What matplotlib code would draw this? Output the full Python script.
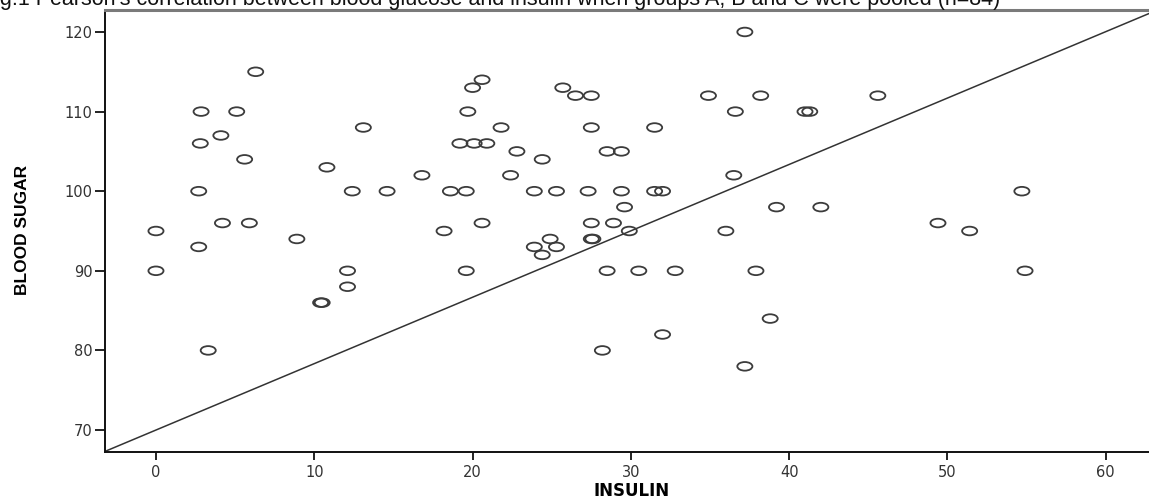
import numpy as np
import matplotlib
matplotlib.use("Agg")
import matplotlib.pyplot as plt
from matplotlib.path import Path
from matplotlib.transforms import Affine2D

# insulin (x) and blood sugar (y), n = 84
insulin = [6.3, 2.85, 5.1, 13.1, 4.1, 2.8, 5.6, 10.8, 2.7, 12.4,
           14.6, 4.2, 5.9, 0.0, 8.9, 2.7, 0.0, 3.3, 10.4, 10.5,
           12.1, 12.1, 19.6, 37.2, 20.6, 20.0, 25.7, 26.5, 27.5, 34.9,
           38.2, 45.6, 19.7, 36.6, 41.0, 41.3, 21.8, 27.5, 31.5, 19.2,
           20.1, 20.9, 22.8, 28.5, 29.4, 24.4, 16.8, 22.4, 36.5, 18.6,
           19.6, 23.9, 25.3, 27.3, 29.4, 31.5, 32.0, 54.7, 29.6, 39.2,
           42.0, 20.6, 27.5, 28.9, 49.4, 18.2, 29.9, 36.0, 51.4, 24.9,
           27.5, 27.6, 23.9, 25.3, 24.4, 28.5, 30.5, 32.8, 37.9, 54.9,
           38.8, 32.0, 28.2, 37.2]
blood_sugar = [115, 110, 110, 108, 107, 106, 104, 103, 100, 100,
               100, 96, 96, 95, 94, 93, 90, 80, 86, 86,
               90, 88, 90, 120, 114, 113, 113, 112, 112, 112,
               112, 112, 110, 110, 110, 110, 108, 108, 108, 106,
               106, 106, 105, 105, 105, 104, 102, 102, 102, 100,
               100, 100, 100, 100, 100, 100, 100, 100, 98, 98,
               98, 96, 96, 96, 96, 95, 95, 95, 95, 94,
               94, 94, 93, 93, 92, 90, 90, 90, 90, 90,
               84, 82, 80, 78]

# reference line drawn on the chart
line_intercept = 70.0
line_slope = 0.834

x_ticks = [0, 10, 20, 30, 40, 50, 60]
y_ticks = [70, 80, 90, 100, 110, 120]
x_lim = (-3.22, 62.73)
y_lim = (67.24, 122.76)

title = ("Fig.1 Pearson's correlation between blood glucose and insulin "
         "when groups A, B and C were pooled (n=84)")

W, H = 1149, 498
fig = plt.figure(figsize=(W / 100, H / 100), dpi=100)
ax = fig.add_axes([105 / W, 46 / H, 1 - 105 / W, (452 - 10) / H])

# wide open ellipse like the SPSS marker
circ = Path.unit_circle()
ellipse = Affine2D().scale(1.75, 1.0).transform_path(circ)

ax.scatter(insulin, blood_sugar, marker=ellipse, s=118, facecolors="none",
           edgecolors="#3c3c3c", linewidths=1.3, zorder=3)

xs = np.array(x_lim)
ax.plot(xs, line_intercept + line_slope * xs, color="#333333", lw=1.1, zorder=2)

ax.set_xlim(*x_lim)
ax.set_ylim(*y_lim)
ax.set_xticks(x_ticks)
ax.set_yticks(y_ticks)
ax.tick_params(axis="both", direction="out", colors="#222222", labelcolor="#333333",
               labelsize=10.5, width=1.4)
ax.tick_params(axis="y", length=7, pad=2)
ax.tick_params(axis="x", length=6, pad=3)

for s in ("left", "bottom"):
    ax.spines[s].set_color("#111111")
    ax.spines[s].set_linewidth(1.4)
ax.spines["top"].set_color("#7a7a7a")
ax.spines["top"].set_linewidth(2.2)
ax.spines["right"].set_visible(False)

ax.set_xlabel("INSULIN", fontsize=12, fontweight="bold", family=["DejaVu Sans"])
ax.xaxis.set_label_coords((632 - 105) / (W - 105), -(482 - 452) / 442)
ax.set_ylabel("BLOOD SUGAR", fontsize=12.5, fontweight="bold",
              family=["Liberation Sans", "DejaVu Sans"], va="center")
ax.yaxis.set_label_coords(-(105 - 23) / (W - 105), (452 - 230) / 442)

fig.text(-18 / W, 1 - 5 / H, title, fontsize=15.5, va="baseline", ha="left",
         family=["Liberation Sans", "DejaVu Sans"], color="#111111")

fig.savefig("out.png", dpi=100)
